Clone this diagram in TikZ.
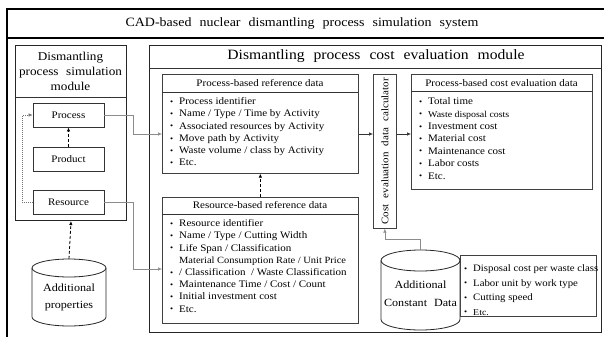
\documentclass[tikz,border=0pt]{standalone}
\usepackage{fontspec}
\setmainfont{Liberation Serif}[FakeStretch=1.1]
\newfontfamily\headfont{Liberation Serif}[FakeStretch=1.1,WordSpace=2.3]
\usetikzlibrary{arrows.meta}

\newcommand{\itm}[1]{\makebox[9pt][l]{\raisebox{0.3pt}{\footnotesize\textbullet}}#1}
\newcommand{\noitm}[1]{\hspace*{9pt}#1}

% database drum: centre x, top y, bottom y, x radius, y radius
\newcommand{\drum}[5]{%
  \filldraw[dbline, fill=white] (#1-#4,#2+#5) -- (#1-#4,#3-#5)
    arc[start angle=180, end angle=0, x radius=#4, y radius=#5]
    -- (#1+#4,#2+#5)
    arc[start angle=0, end angle=-180, x radius=#4, y radius=#5] -- cycle;
  \draw[dbline] (#1-#4,#2+#5) arc[start angle=180, end angle=0, x radius=#4, y radius=#5];
}

\tikzset{
  frame/.style={draw=black, line width=1.1pt},
  modbox/.style={draw=black!85, line width=1pt, inner sep=0pt, anchor=north west},
  sepline/.style={draw=black!80, line width=0.8pt},
  databox/.style={draw=black!75, line width=0.7pt, inner sep=0pt, anchor=north west},
  smallbox/.style={draw=black!80, line width=0.8pt, minimum width=71pt, minimum height=24pt,
    inner sep=0pt, font=\fontsize{10}{12}\selectfont},
  dbline/.style={draw=black!85, line width=0.8pt},
  dbarea/.style={inner sep=0pt},
  dblabel/.style={align=center, inner sep=0pt},
  boxtitle/.style={font=\fontsize{10}{12}\selectfont},
  listtext/.style={anchor=north west, align=left, inner sep=0pt, font=\fontsize{10}{12.2}\selectfont},
  arr/.style={-{Latex[length=4pt,width=3.5pt]}, draw=black!80, line width=0.6pt},
  dasharr/.style={arr, dash pattern=on 3pt off 2pt, line width=0.8pt, draw=black},
  dotarr/.style={arr, draw=black!55, dash pattern=on 1pt off 1pt, line width=0.5pt},
  graylink/.style={arr, draw=black!45, line width=0.5pt},
}

\begin{document}
\begin{tikzpicture}[x=1pt,y=-1pt]
\useasboundingbox (0,0) rectangle (604,337);

% system frame and title
\draw[frame] (7,337) -- (7,9) -- (604,9);
\draw[frame] (7,38) -- (604,38);
\node[font=\headfont\fontsize{12.7}{15}\selectfont] (sys) at (302,23.5) {CAD-based nuclear dismantling process simulation system};

% simulation module
\node[modbox, minimum width=111pt, minimum height=175pt] (simmod) at (15,45) {};
\draw[sepline] (15,97) -- (126,97);
\node[align=center, font=\headfont\fontsize{12}{15}\selectfont] (simhead) at (70.5,71.5) {Dismantling\\process simulation\\module};
\node[smallbox] (process) at (68.5,115) {Process};
\node[smallbox] (product) at (68.5,159) {Product};
\node[smallbox] (resource) at (68.5,202.5) {Resource};

% additional properties store
\drum{69}{259}{326}{37}{9}
\node[dbarea, minimum width=74pt, minimum height=67pt] (addprop) at (69,292.5) {};
\node[dblabel, font=\fontsize{11}{17}\selectfont] (addproplabel) at (69,297) {Additional\\properties};

% cost evaluation module
\node[modbox, minimum width=452pt, minimum height=287pt] (costmod) at (149,45) {};
\draw[sepline] (149,68) -- (601,68);
\node[font=\headfont\fontsize{14.2}{16}\selectfont] (costhead) at (376,56.5) {Dismantling process cost evaluation module};

% process-based reference data
\node[databox, minimum width=196pt, minimum height=99pt] (procref) at (162,74) {};
\draw[sepline, line width=0.6pt] (162,92) -- (358,92);
\node[boxtitle] (proctitle) at (260,83) {Process-based reference data};
\node[listtext] (proclist) at (170,97.5) {%
  \itm{Process identifier}\\
  \itm{Name / Type / Time by Activity}\\
  \itm{Associated resources by Activity}\\
  \itm{Move path by Activity}\\
  \itm{Waste volume / class by Activity}\\
  \itm{Etc.}};

% resource-based reference data
\node[databox, minimum width=196pt, minimum height=126pt] (resref) at (162,197) {};
\draw[sepline, line width=0.6pt] (162,214) -- (358,214);
\node[boxtitle] (restitle) at (260,205.5) {Resource-based reference data};
\node[listtext] (reslist) at (170,219.5) {%
  \itm{Resource identifier}\\
  \itm{Name / Type / Cutting Width}\\
  \itm{Life Span / Classification}\\
  \noitm{\fontsize{9.5}{12.2}\selectfont Material Consumption Rate / Unit Price}\\
  \itm{/ Classification~ / Waste Classification}\\
  \itm{Maintenance Time / Cost / Count}\\
  \itm{Initial investment cost}\\
  \itm{Etc.}};

% calculator
\node[databox, minimum width=23pt, minimum height=154pt] (calc) at (373,74) {};
\node[rotate=90, font=\headfont\fontsize{10}{12}\selectfont] (calctext) at (calc.center) {Cost evaluation data calculator};

% process-based cost evaluation data
\node[databox, minimum width=181pt, minimum height=115pt] (costdata) at (411,74) {};
\draw[sepline, line width=0.6pt] (411,91.5) -- (592,91.5);
\node[boxtitle] (costtitle) at (501.5,83) {Process-based cost evaluation data};
\node[listtext, font=\fontsize{10}{12.4}\selectfont] (costlist) at (419,97.5) {%
  \itm{Total time}\\
  \itm{\fontsize{9}{12.4}\selectfont Waste disposal costs}\\
  \itm{Investment cost}\\
  \itm{Material cost}\\
  \itm{Maintenance cost}\\
  \itm{Labor costs}\\
  \itm{Etc.}};

% additional constant data
\node[databox, minimum width=136pt, minimum height=61pt] (constbox) at (460,255) {};
\node[listtext, font=\fontsize{9.8}{14.5}\selectfont] (constlist) at (464,264.5) {%
  \itm{Disposal cost per waste class}\\
  \itm{Labor unit by work type}\\
  \itm{Cutting speed}\\
  \itm{\fontsize{9}{14.5}\selectfont Etc.}};
\drum{420.5}{250}{330}{39.5}{10.5}
\node[dbarea, minimum width=79pt, minimum height=80pt] (constdb) at (420.5,290) {};
\node[dblabel, font=\headfont\fontsize{11}{18}\selectfont] (constlabel) at (420.5,294) {Additional\\Constant Data};

% entry points on box edges
\coordinate (procin) at (162,134);
\coordinate (resin) at (162,269);

% connectors
\draw[dasharr] (addprop.north) -- (simmod.south);
\draw[dasharr] (product) -- (process);
\draw[dotarr] (resource.west) -- ++(-10,0) |- (process.west);
\draw[graylink] (process.east) -- ++(29,0) |- (procin);
\draw[graylink] (resource.east) -- ++(29,0) |- (resin);
\draw[dasharr] (resref.north) -- (procref.south);
\draw[arr] (procref.east |- procin) -- (calc.west |- procin);
\draw[arr] (calc.east |- procin) -- (costdata.west |- procin);
\draw[graylink] (constdb.north) -- ++(0,-11) -| (calc.south);
\end{tikzpicture}
\end{document}
